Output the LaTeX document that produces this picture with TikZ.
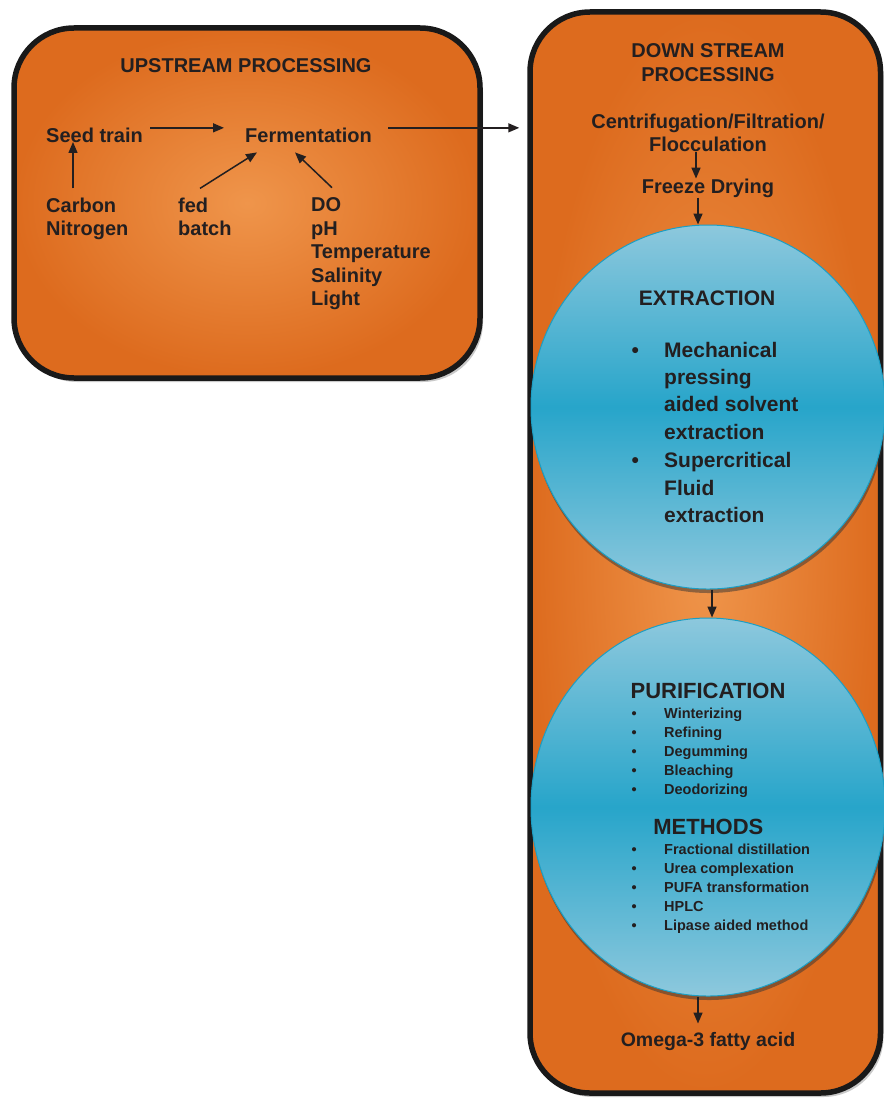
\documentclass[tikz,border=0pt]{standalone}
\usepackage{fontspec}
\setmainfont{Liberation Sans}
\usepackage{tikz}
\usetikzlibrary{positioning,arrows.meta,shapes.geometric,shadows}
\definecolor{orangeedge}{HTML}{DD6B1E}
\definecolor{orangemid}{HTML}{EF954B}
\definecolor{bluelight}{HTML}{8DC8DD}
\definecolor{bluemid}{HTML}{27A5CA}
\definecolor{blueline}{HTML}{1B9EC4}
\definecolor{ink}{HTML}{231F20}
\newcommand{\bul}{\makebox[32.5pt][l]{\textbullet}}
\newcommand{\ind}{\hspace*{32.5pt}}

\begin{document}
\begin{tikzpicture}[x=1pt,y=-1pt,
    node distance=26.7pt,
    panel/.style={rectangle,draw=black!90,line width=5.5pt,rounded corners=60pt,inner sep=0pt,
      inner color=orangemid,outer color=orangeedge,
      drop shadow={shadow xshift=3pt,shadow yshift=-4pt,opacity=0.3,fill=black!70}},
    blob/.style={ellipse,draw=blueline,line width=1pt,inner sep=0pt,minimum width=354pt,
      top color=bluelight,bottom color=bluelight,middle color=bluemid,
      drop shadow={shadow xshift=1pt,shadow yshift=-4pt,opacity=0.5,fill=black!80}},
    txt/.style={inner sep=0pt,text=ink,font=\fontsize{20}{23.4}\selectfont\bfseries,align=left},
    head/.style={txt,align=center,font=\fontsize{21}{26}\selectfont\bfseries},
    bighead/.style={txt,align=center,font=\fontsize{22}{26}\selectfont\bfseries},
    item/.style={txt,font=\fontsize{21}{27.3}\selectfont\bfseries},
    small/.style={txt,font=\fontsize{14.5}{19}\selectfont\bfseries},
    arr/.style={-{Triangle[length=11pt,width=9pt]},line width=1.5pt,draw=ink},
  ]
  \useasboundingbox (0,0) rectangle (883,1099);
  \node[panel,minimum width=466pt,minimum height=350pt] (up) at (247,203) {};
  \node[panel,minimum width=350.5pt,minimum height=1081pt] (down) at (705.25,552.5) {};

  \node[txt,anchor=base] (uptitle) at (246,73) {UPSTREAM PROCESSING};
  \node[txt,anchor=base west] (seed) at (46,143) {Seed train};
  \node[txt,anchor=base west] (ferm) at (245,143) {Fermentation};
  \node[txt,anchor=north west] (carbon) at (46,197.4) {Carbon\\Nitrogen};
  \node[txt,anchor=north west] (fed) at (178,197.4) {fed\\batch};
  \node[txt,anchor=north west] (params) at (311,197.7) {DO\\pH\\Temperature\\Salinity\\Light};

  \node[txt,align=center,anchor=north] (downtitle) at (708,43.7) {DOWN STREAM\\PROCESSING};
  \node[txt,align=center,anchor=north] (centri) at (708,113.4) {Centrifugation/Filtration/\\Flocculation};
  \node[txt,below=of centri] (freeze) {Freeze Drying};
  \node[blob,minimum height=364pt,below=26.8pt of freeze] (extraction) {};
  \node[blob,minimum height=378pt,below=28pt of extraction] (purification) {};
  \node[txt,font=\fontsize{19.5}{22}\selectfont\bfseries,below=36pt of purification] (omega) {Omega-3 fatty acid};

  \node[head,anchor=base] (extitle) at (707,305) {EXTRACTION};
  \node[item,anchor=north west] (exlist) at (631.5,341.7) {\bul Mechanical\\\ind pressing\\\ind aided solvent\\\ind extraction\\[1.6pt]\bul Supercritical\\\ind Fluid\\\ind extraction};
  \node[bighead,anchor=base] (putitle) at (708,698.3) {PURIFICATION};
  \node[small,anchor=north west] (pulist) at (631.5,707.7) {\bul Winterizing\\\bul Refining\\\bul Degumming\\\bul Bleaching\\\bul Deodorizing};
  \node[bighead,anchor=base] (metitle) at (708.3,834) {METHODS};
  \node[small,anchor=north west] (melist) at (631.5,843.4) {\bul Fractional distillation\\\bul Urea complexation\\\bul PUFA transformation\\\bul HPLC\\\bul Lipase aided method};

  \draw[arr] ([xshift=27pt,yshift=9pt]carbon.north west) -- ([xshift=27pt,yshift=1pt]seed.base west);
  \draw[arr] ([xshift=7pt,yshift=8pt]seed.east) -- ([xshift=-21pt,yshift=8pt]ferm.west);
  \draw[arr] ([xshift=22pt,yshift=9pt]fed.north west) -- ([xshift=12pt,yshift=-9pt]ferm.south west);
  \draw[arr] ([xshift=21pt,yshift=10pt]params.north west) -- ([xshift=50pt,yshift=-9pt]ferm.south west);
  \draw[arr,shorten >=8pt] ([xshift=16pt,yshift=8pt]ferm.east) -- ([yshift=8pt]ferm.east -| down.west);
  \draw[arr] ([xshift=-12pt]centri.south) -- ([xshift=-12pt]freeze.north);
  \draw[arr] ([xshift=-10pt]freeze.south) -- ([xshift=-10pt]extraction.north);
  \draw[arr] ([xshift=4pt]extraction.south) -- ([xshift=4pt]purification.north);
  \draw[arr] ([xshift=-10pt]purification.south) -- ([xshift=-10pt,yshift=9pt]omega.north);
\end{tikzpicture}
\end{document}
